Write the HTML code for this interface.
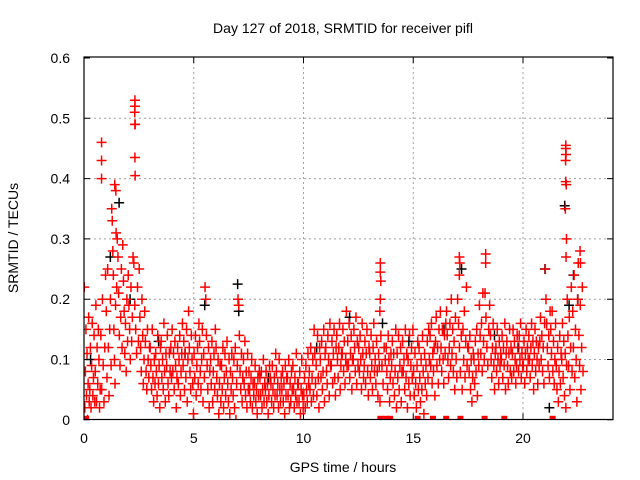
<!DOCTYPE html>
<html><head><meta charset="utf-8"><style>
html,body{margin:0;padding:0;background:#fff}
svg{display:block;font-family:"Liberation Sans",sans-serif}
</style></head><body>
<svg id="chart" width="640" height="480" viewBox="0 0 640 480" xmlns="http://www.w3.org/2000/svg">
<rect width="640" height="480" fill="#fff"/>
<text x="343" y="33" font-size="14" text-anchor="middle" fill="#000">Day 127 of 2018, SRMTID for receiver pifl</text>
<text x="343" y="472" font-size="14" text-anchor="middle" fill="#000">GPS time / hours</text>
<text transform="translate(18,238) rotate(-90)" font-size="14" text-anchor="middle" fill="#000">SRMTID / TECUs</text>
<g id="grid"></g>
<g id="ticks"></g>
<defs><clipPath id="clip"><rect x="84" y="57" width="529" height="363"/></clipPath></defs>
<g id="marks" clip-path="url(#clip)"></g>
<rect x="84" y="57" width="529" height="362.5" fill="none" stroke="#000" stroke-width="1.2"/>
</svg>
<script>
const xTicks = [0, 5, 10, 15, 20];
const yTicks = [0, 0.1, 0.2, 0.3, 0.4, 0.5, 0.6];
const yTickLabels = ["0", "0.1", "0.2", "0.3", "0.4", "0.5", "0.6"];
const binWidth = 0.25;
const redBins = [
[.22,.02,.08,.15,.04,.11,.0,.06,.17,.03],
[.05,.12,.02,.09,.16,.04,.07,.14,.03],
[.08,.19,.03,.12,.06,.15,.10,.02,.05],
[.14,.05,.20,.09,.03,.12,.24],
[.18,.07,.25,.12,.04,.15,.20,.09],
[.35,.33,.28,.24,.15,.10,.06,.19,.31,.22],
[.30,.27,.21,.14,.09,.17,.25,.12],
[.29,.23,.18,.11,.16,.08,.20,.13],
[.24,.19,.15,.10,.22,.13,.17,.27],
[.26,.19,.15,.11,.22,.13],
[.25,.17,.12,.08,.20,.14,.06,.10],
[.18,.13,.08,.05,.15,.10,.07,.12],
[.12,.09,.05,.15,.07,.03,.10,.06],
[.11,.08,.04,.14,.06,.09,.02,.12],
[.13,.07,.10,.05,.16,.08,.03,.11],
[.09,.14,.06,.04,.11,.08,.12,.07],
[.15,.08,.11,.05,.13,.09,.02,.07],
[.12,.06,.10,.14,.04,.08,.11,.16],
[.09,.13,.05,.11,.07,.15,.03,.10],
[.18,.12,.08,.05,.14,.10,.06,.01],
[.11,.07,.14,.04,.09,.12,.06,.16],
[.13,.08,.05,.10,.15,.03,.11,.07],
[.22,.20,.14,.09,.05,.12,.02,.08],
[.10,.06,.13,.03,.08,.11,.05,.15],
[.12,.07,.04,.10,.01,.06,.09,.03],
[.09,.05,.12,.02,.07,.11,.04,.08],
[.13,.06,.03,.10,.01,.08,.05,.11],
[.07,.04,.10,.02,.12,.0,.06,.09],
[.20,.19,.14,.08,.05,.11,.03,.07],
[.10,.06,.13,.04,.08,.02,.11,.05],
[.08,.05,.03,.07,.10,.02,.06,.04],
[.06,.09,.03,.05,.01,.07,.04,.08],
[.07,.04,.08,.02,.05,.10,.03,.06],
[.05,.08,.03,.06,.01,.04,.09,.07],
[.06,.03,.09,.05,.02,.07,.04,.11],
[.08,.04,.06,.02,.10,.05,.03,.07],
[.05,.08,.03,.06,.01,.09,.04,.07],
[.07,.04,.10,.02,.06,.03,.08,.05],
[.09,.05,.02,.07,.04,.11,.03,.06],
[.06,.03,.08,.01,.05,.10,.04,.02],
[.04,.07,.02,.09,.05,.03,.11,.06],
[.08,.05,.12,.03,.07,.10,.04,.15],
[.11,.06,.09,.04,.14,.07,.02,.12],
[.10,.07,.13,.05,.08,.15,.03,.11],
[.12,.08,.06,.14,.10,.04,.16,.09],
[.09,.13,.06,.11,.15,.07,.04,.12],
[.14,.10,.07,.12,.16,.05,.09,.11],
[.11,.15,.08,.13,.06,.10,.18,.09],
[.13,.09,.16,.07,.11,.14,.05,.10],
[.10,.15,.12,.08,.17,.06,.13,.09],
[.12,.08,.14,.10,.05,.16,.11,.07],
[.09,.13,.06,.11,.15,.08,.04,.12],
[.11,.07,.14,.09,.05,.12,.16,.08],
[.10,.06,.13,.08,.04,.11,.09,.03],
[.14,.09,.06,.12,.10],
[.12,.08,.05,.14,.10,.03,.07,.11],
[.09,.13,.06,.11,.04,.08,.15,.02],
[.11,.07,.14,.05,.09,.12,.03,.08],
[.13,.08,.10,.05,.15,.07,.11,.02],
[.10,.06,.14,.04,.09,.12,.07,.15],
[.08,.04,.11,.06,.02,.09,.13,.05],
[.12,.07,.03,.10,.05,.14,.08,.01],
[.11,.06,.09,.04,.13,.07,.15,.10],
[.14,.09,.16,.06,.11,.08,.12,.04],
[.13,.17,.09,.12,.06,.15,.10,.18],
[.12,.08,.15,.10,.06,.14,.11,.16],
[.18,.14,.10,.07,.12,.16,.09,.20],
[.11,.15,.08,.13,.05,.17,.10,.07],
[.20,.16,.12,.08,.14,.05],
[.15,.10,.18,.07,.13,.22,.09,.12],
[.12,.08,.14,.05,.10,.03,.07,.11],
[.10,.06,.13,.08,.15,.04,.11,.09],
[.19,.14,.11,.16,.08,.21,.13,.10],
[.21,.17,.12,.09,.15,.19],
[.14,.10,.07,.12,.16,.09,.05,.11],
[.12,.08,.15,.10,.06,.13,.09,.11],
[.10,.14,.07,.12,.09,.16,.05,.11],
[.13,.09,.06,.11,.15,.08,.12,.07],
[.11,.15,.08,.13,.10,.06,.09,.14],
[.12,.08,.14,.10,.16,.07,.11,.09],
[.09,.13,.06,.11,.15,.08,.12,.10],
[.14,.10,.07,.12,.16,.09,.13,.05],
[.11,.15,.08,.13,.10,.06,.12,.09],
[.13,.17,.10,.14,.08,.12,.06,.16],
[.25,.20,.16,.12,.09,.14,.07,.18],
[.15,.11,.18,.08,.13,.06,.10,.16],
[.09,.05,.12,.03,.08,.14,.06,.11],
[.10,.16,.07,.13,.04,.11,.02,.09],
[.20,.14,.09,.17,.05,.12,.22,.08],
[.18,.12,.24,.07,.15,.10,.03,.20],
[.26,.14,.09,.19,.05,.12,.22,.08]
];
const spikeT = [0.8, 0.8, 0.8, 1.4, 1.45, 2.32, 2.32, 2.31, 2.33, 2.32, 2.32, 2.33, 13.5, 13.5, 13.52, 13.5, 13.48, 17.1, 17.12, 17.1, 18.3, 18.3, 21.95, 21.95, 21.96, 21.94, 21.95, 21.97, 21.93, 21.98, 21.96, 22.6, 22.62];
const spikeV = [0.46, 0.43, 0.40, 0.39, 0.38, 0.53, 0.52, 0.51, 0.49, 0.49, 0.435, 0.405, 0.26, 0.245, 0.23, 0.20, 0.18, 0.27, 0.26, 0.24, 0.275, 0.26, 0.455, 0.45, 0.44, 0.43, 0.395, 0.39, 0.35, 0.30, 0.27, 0.28, 0.26];
const zeroT = [0.1, 13.5, 13.75, 13.95, 15.2, 15.9, 16.5, 17.15, 18.25, 19.15, 21.35];
const blackT = [0.3, 1.2, 1.6, 2.1, 3.4, 4.6, 5.5, 7.0, 7.05, 8.4, 10.6, 12.1, 13.6, 14.8, 16.4, 17.2, 18.7, 19.8, 21.0, 21.2, 21.9, 22.1, 22.3, 22.5];
const blackV = [0.10, 0.27, 0.36, 0.20, 0.13, 0.11, 0.19, 0.225, 0.18, 0.07, 0.12, 0.17, 0.16, 0.13, 0.15, 0.25, 0.14, 0.12, 0.25, 0.02, 0.355, 0.19, 0.24, 0.20];

const X0 = 84, XS = 21.95, Y0 = 419.8, YS = 603;
function xScale(t){ return X0 + t * XS; }
function yScale(v){ return Y0 - v * YS; }
const NS = "http://www.w3.org/2000/svg";
const grid = document.getElementById('grid');
const ticks = document.getElementById('ticks');
const marks = document.getElementById('marks');
function mk(tag, attrs, parent){ const e = document.createElementNS(NS, tag); for (const k in attrs) e.setAttribute(k, attrs[k]); parent.appendChild(e); return e; }

xTicks.forEach(function(t){
  const x = xScale(t);
  if (t > 0) {
    const g = mk('line', {x1:x, x2:x, y1:57, y2:419.5, stroke:'#a0a0a0', 'stroke-dasharray':'2,3', 'stroke-width':1}, grid);
    
    
  }
  const tk = mk('path', {d:'M'+x+' 419.5v-6M'+x+' 57v6', stroke:'#000', 'stroke-width':1}, ticks);
  
  
  const lb = mk('text', {x:x, y:443, 'font-size':14, 'text-anchor':'middle', fill:'#000'}, ticks);
  lb.textContent = String(t);
  
  
});
yTicks.forEach(function(v, i){
  const y = yScale(v);
  if (i > 0 && i < yTicks.length - 1) {
    const g = mk('line', {x1:84, x2:613, y1:y, y2:y, stroke:'#a0a0a0', 'stroke-dasharray':'2,3', 'stroke-width':1}, grid);
    
    
  }
  const tk = mk('path', {d:'M84 '+y+'h6M613 '+y+'h-6', stroke:'#000', 'stroke-width':1}, ticks);
  
  
  const lb = mk('text', {x:70, y:y+5, 'font-size':14, 'text-anchor':'end', fill:'#000'}, ticks);
  lb.textContent = yTickLabels[i];
  
  
});

function plus(t, v, color, name){
  const x = xScale(t), y = yScale(v);
  const p = mk('path', {d:'M'+(x-5)+' '+y+'h10M'+x+' '+(y-5)+'v10', stroke:color, 'stroke-width':1.5, fill:'none'}, marks);
  
  
}
blackT.forEach(function(t, i){ plus(t, blackV[i], '#000', 'black-point'); });
redBins.forEach(function(vals, b){
  const n = vals.length;
  vals.forEach(function(v, k){
    const t = b * binWidth + (k + 0.5) * binWidth / n;
    plus(t, v, '#ff0000', 'red-point');
  });
});
spikeT.forEach(function(t, i){ plus(t, spikeV[i], '#ff0000', 'red-spike-point'); });
zeroT.forEach(function(t){
  const r = mk('rect', {x:xScale(t)-3, y:yScale(0)-4, width:6, height:8, fill:'#ff0000'}, marks);
  
  
});
</script>
</body></html>
